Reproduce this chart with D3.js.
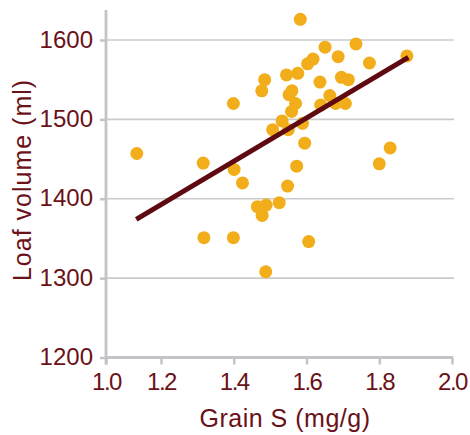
<!DOCTYPE html>
<html>
<head>
<meta charset="utf-8">
<script src="https://cdn.jsdelivr.net/npm/d3@7"></script>
<style>
  body { margin: 0; background: #fff; }
  svg text { font-family: "Liberation Sans", Arial, sans-serif; fill: #6b1118; }
</style>
</head>
<body>
<div id="chart"></div>
<script>
// grain S (mg/g) and loaf volume (ml) per sample
const grainS = [1.112, 1.316, 1.318, 1.399, 1.399, 1.401, 1.424, 1.477, 1.485, 1.465,
  1.489, 1.478, 1.488, 1.507, 1.525, 1.533, 1.545, 1.548, 1.550, 1.552,
  1.560, 1.559, 1.570, 1.573, 1.576, 1.583, 1.589, 1.595, 1.603, 1.618,
  1.606, 1.637, 1.639, 1.651, 1.664, 1.680, 1.687, 1.696, 1.707, 1.715,
  1.736, 1.773, 1.800, 1.830, 1.876]
const loafVolume = [1457, 1445, 1351, 1351, 1520, 1437, 1420, 1536, 1550, 1390,
  1392, 1379, 1308, 1487, 1395, 1498, 1556, 1416, 1487, 1531,
  1536, 1510, 1520, 1441, 1558, 1626, 1495, 1470, 1570, 1576,
  1346, 1547, 1518, 1591, 1530, 1520, 1579, 1553, 1520, 1550,
  1595, 1571, 1444, 1464, 1580]

// fitted line end points
const fitX = [1.11, 1.88]
const fitY = [1374, 1578]

const xTicks = [1.0, 1.2, 1.4, 1.6, 1.8, 2.0]
const yTicks = [1200, 1300, 1400, 1500, 1600]

const width = 470
const height = 435
const axisColor = "#c4c4c8"
const gridColor = "#cbcbcb"
const dotColor = "#f2ae1a"
const lineColor = "#5e0a10"

const svg = d3.select("#chart").append("svg")
  .attr("width", width)
  .attr("height", height)

// the printed axis is not evenly spaced between 1.0 and 1.2
const x = d3.scaleLinear()
  .domain([1.0, 1.2, 2.0])
  .range([106, 161, 452])

const y = d3.scaleLinear()
  .domain([1200, 1600])
  .range([357.5, 40])

// grid
svg.append("g")
  .selectAll("line")
  .data(yTicks.slice(1))
  .join("line")
  .attr("x1", x(1.0))
  .attr("x2", 454)
  .attr("y1", d => y(d))
  .attr("y2", d => y(d))
  .attr("stroke", gridColor)
  .attr("stroke-width", 1.6)

// y axis
const yAxis = svg.append("g")
  .attr("transform", `translate(${x(1.0)},0)`)
  .call(d3.axisLeft(y).tickValues(yTicks).tickSize(6).tickPadding(7).tickFormat(d3.format("d")))
yAxis.select(".domain").remove()
yAxis.selectAll(".tick line").attr("stroke", axisColor).attr("stroke-width", 2.5)
yAxis.selectAll(".tick text")
  .attr("font-size", 24)
  .attr("dy", "0.3em")
  .style("font-family", null)
yAxis.attr("font-family", null)
yAxis.append("line")
  .attr("x1", 0).attr("x2", 0)
  .attr("y1", 10).attr("y2", y(1200) + 7)
  .attr("stroke", axisColor)
  .attr("stroke-width", 2.8)

// x axis
const xAxis = svg.append("g")
  .attr("transform", `translate(0,${y(1200)})`)
  .call(d3.axisBottom(x).tickValues(xTicks).tickSize(7).tickPadding(8).tickFormat(d3.format(".1f")))
xAxis.select(".domain").remove()
xAxis.attr("font-family", null)
xAxis.selectAll(".tick line").attr("stroke", axisColor).attr("stroke-width", 2.5)
xAxis.selectAll(".tick text")
  .attr("font-size", 24)
  .attr("dy", "0.72em")
  .attr("letter-spacing", -1.5)
xAxis.append("line")
  .attr("x1", x(1.0)).attr("x2", x(2.0) + 1)
  .attr("y1", 0).attr("y2", 0)
  .attr("stroke", axisColor)
  .attr("stroke-width", 2.8)

// titles
svg.append("text")
  .attr("x", 285)
  .attr("y", 427)
  .attr("text-anchor", "middle")
  .attr("font-size", 25)
  .attr("letter-spacing", 0.5)
  .text("Grain S (mg/g)")

svg.append("text")
  .attr("transform", "translate(31,180) rotate(-90)")
  .attr("text-anchor", "middle")
  .attr("font-size", 25)
  .attr("letter-spacing", 1)
  .text("Loaf volume (ml)")

// points
svg.append("g")
  .selectAll("circle")
  .data(grainS.map((d, i) => ({ s: d, v: loafVolume[i] })))
  .join("circle")
  .attr("cx", d => x(d.s))
  .attr("cy", d => y(d.v))
  .attr("r", 6.5)
  .attr("fill", dotColor)

// fit line
svg.append("line")
  .attr("x1", x(fitX[0]))
  .attr("y1", y(fitY[0]))
  .attr("x2", x(fitX[1]))
  .attr("y2", y(fitY[1]))
  .attr("stroke", lineColor)
  .attr("stroke-width", 5)
</script>
</body>
</html>
